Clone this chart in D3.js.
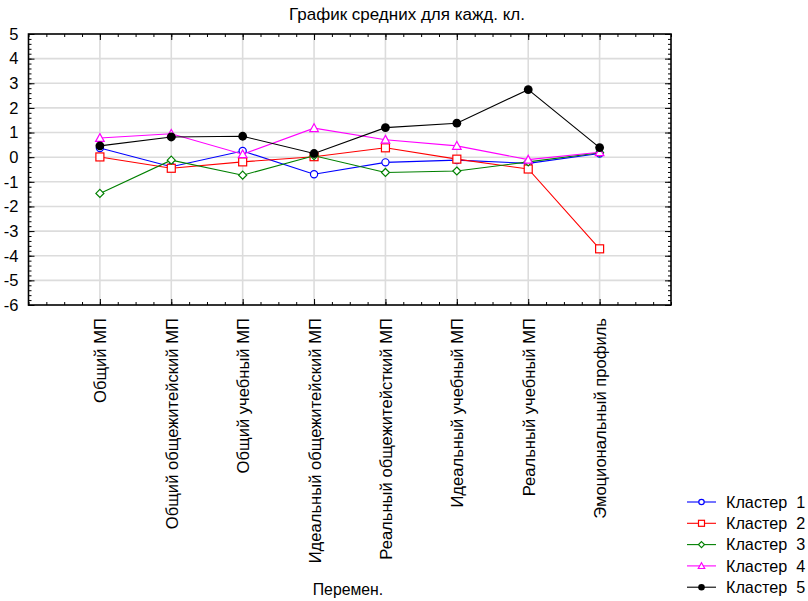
<!DOCTYPE html>
<html>
<head>
<meta charset="utf-8">
<script src="https://cdn.jsdelivr.net/npm/d3@7"></script>
<style>
  html, body { margin: 0; padding: 0; background: #fff; }
  svg { display: block; font-family: "Liberation Sans", Arial, sans-serif; }
</style>
</head>
<body>
<svg id="chart" width="808" height="601"></svg>
<script>
const categories = [
  "Общий МП",
  "Общий общежитейский МП",
  "Общий учебный МП",
  "Идеальный общежитейский МП",
  "Реальный общежитейсткий МП",
  "Идеальный учебный МП",
  "Реальный учебный МП",
  "Эмоциональный профиль"
];
const seriesNames = ["Кластер  1", "Кластер  2", "Кластер  3", "Кластер  4", "Кластер  5"];
const cluster1 = [0.37, -0.39, 0.25, -0.69, -0.21, -0.12, -0.25, 0.15];
const cluster2 = [0.01, -0.45, -0.19, 0.02, 0.38, -0.08, -0.48, -3.72];
const cluster3 = [-1.47, -0.12, -0.73, 0.06, -0.62, -0.56, -0.19, 0.18];
const cluster4 = [0.78, 0.95, 0.12, 1.18, 0.71, 0.46, -0.10, 0.20];
const cluster5 = [0.46, 0.82, 0.85, 0.15, 1.20, 1.38, 2.74, 0.39];
const yTicks = [-6, -5, -4, -3, -2, -1, 0, 1, 2, 3, 4, 5];

const seriesColors = ["#0000ff", "#ff0000", "#008000", "#ff00ff", "#000000"];
const seriesShapes = ["circle", "square", "diamond", "triangle", "dot"];
const seriesData = [cluster1, cluster2, cluster3, cluster4, cluster5];

const svg = d3.select("#chart");
const L = 28.5, R = 671, T = 34, B = 305;
const x = d3.scaleLinear().domain([0, categories.length + 1]).range([L, R]);
const y = d3.scaleLinear().domain([-6, 5]).range([B, T]);

// gridlines
const grid = svg.append("g");
grid.selectAll("line.h").data(yTicks.slice(1, -1)).join("line")
  .attr("x1", L).attr("x2", R).attr("y1", d => y(d)).attr("y2", d => y(d))
  .attr("stroke", "#dcdcdc").attr("stroke-width", 1.6);
grid.selectAll("line.v").data(d3.range(1, categories.length + 1)).join("line")
  .attr("y1", T).attr("y2", B).attr("x1", d => x(d)).attr("x2", d => x(d))
  .attr("stroke", "#dcdcdc").attr("stroke-width", 1.6);

const minorY = d3.range(-6, 5.001, 0.2).map(v => Math.round(v * 10) / 10);
const minorX = d3.range(0, categories.length + 1.001, 0.25);

function styleAxis(g) {
  g.select(".domain").remove();
  g.selectAll(".tick line").attr("stroke", "#000");
}

// left axis
svg.append("g").attr("transform", `translate(${L},0)`)
  .call(d3.axisLeft(y).tickValues(minorY).tickSizeInner(-3).tickFormat(""))
  .call(styleAxis);
svg.append("g").attr("transform", `translate(${L},0)`)
  .call(d3.axisLeft(y).tickValues(yTicks).tickSizeInner(-6).tickPadding(10).tickFormat(d3.format("d")))
  .call(styleAxis)
  .call(g => g.selectAll("text").attr("font-size", "16.5px").attr("fill", "#000")
    .attr("font-family", "'Liberation Sans', Arial, sans-serif").text(d => String(d).replace("−", "-")));
// right axis (mirror)
svg.append("g").attr("transform", `translate(${R},0)`)
  .call(d3.axisRight(y).tickValues(minorY).tickSizeInner(-3).tickFormat(""))
  .call(styleAxis);
svg.append("g").attr("transform", `translate(${R},0)`)
  .call(d3.axisRight(y).tickValues(yTicks).tickSizeInner(-6).tickFormat(""))
  .call(styleAxis);
// top axis (mirror)
svg.append("g").attr("transform", `translate(0,${T})`)
  .call(d3.axisTop(x).tickValues(minorX).tickSizeInner(-3).tickFormat(""))
  .call(styleAxis);
svg.append("g").attr("transform", `translate(0,${T})`)
  .call(d3.axisTop(x).tickValues(d3.range(1, categories.length + 1)).tickSizeInner(-6).tickFormat(""))
  .call(styleAxis);
// bottom axis
svg.append("g").attr("transform", `translate(0,${B})`)
  .call(d3.axisBottom(x).tickValues(minorX).tickSizeInner(-3).tickFormat(""))
  .call(styleAxis);
svg.append("g").attr("transform", `translate(0,${B})`)
  .call(d3.axisBottom(x).tickValues(d3.range(1, categories.length + 1)).tickSizeInner(-6)
    .tickFormat(d => categories[d - 1]))
  .call(styleAxis)
  .call(g => g.selectAll("text")
    .attr("font-size", "16.6px").attr("fill", "#000")
    .attr("font-family", "'Liberation Sans', Arial, sans-serif")
    .attr("transform", "rotate(-90)")
    .attr("text-anchor", "end")
    .attr("x", -13).attr("y", 0).attr("dy", "0.36em"));

// frame
svg.append("rect").attr("x", L).attr("y", T).attr("width", R - L).attr("height", B - T)
  .attr("fill", "none").attr("stroke", "#000").attr("stroke-width", 1.6);

// marker drawing
function drawMarker(sel, shape, color, s) {
  if (shape === "circle") {
    sel.append("circle").attr("r", 3.6 * s).attr("fill", "#fff").attr("stroke", color).attr("stroke-width", 1.2);
  } else if (shape === "square") {
    const h = 4 * s;
    sel.append("rect").attr("x", -h).attr("y", -h).attr("width", 2 * h).attr("height", 2 * h)
      .attr("fill", "#fff").attr("stroke", color).attr("stroke-width", 1.2);
  } else if (shape === "diamond") {
    const h = 4 * s;
    sel.append("path").attr("d", `M0,${-h}L${h},0L0,${h}L${-h},0Z`)
      .attr("fill", "#fff").attr("stroke", color).attr("stroke-width", 1.2);
  } else if (shape === "triangle") {
    const h = 4.3 * s;
    sel.append("path").attr("d", `M0,${-h}L${h},${h * 0.8}L${-h},${h * 0.8}Z`)
      .attr("fill", "#fff").attr("stroke", color).attr("stroke-width", 1.2);
  } else {
    sel.append("circle").attr("r", 4.4 * s).attr("fill", color);
  }
}

const line = d3.line().x((d, i) => x(i + 1)).y(d => y(d));
seriesData.forEach((vals, k) => {
  const g = svg.append("g");
  g.append("path").datum(vals).attr("d", line).attr("fill", "none")
    .attr("stroke", seriesColors[k]).attr("stroke-width", 1.1);
  vals.forEach((v, i) => {
    const m = g.append("g").attr("transform", `translate(${x(i + 1)},${y(v)})`);
    drawMarker(m, seriesShapes[k], seriesColors[k], 1);
  });
});

// title
svg.append("text").attr("x", 407).attr("y", 20).attr("text-anchor", "middle")
  .attr("font-size", "17px").attr("fill", "#000").text("График средних для кажд. кл.");
// x axis title
svg.append("text").attr("x", 348).attr("y", 595).attr("text-anchor", "middle")
  .attr("font-size", "15.8px").attr("fill", "#000").text("Перемен.");

// legend
const lg = svg.append("g");
seriesNames.forEach((name, k) => {
  const yy = 502 + k * 21.3;
  const row = lg.append("g").attr("transform", `translate(0,${yy})`);
  row.append("line").attr("x1", 687).attr("x2", 716).attr("y1", 0).attr("y2", 0)
    .attr("stroke", seriesColors[k]).attr("stroke-width", 1.1);
  const m = row.append("g").attr("transform", "translate(701.5,0)");
  drawMarker(m, seriesShapes[k], seriesColors[k], 0.75);
  row.append("text").attr("x", 726).attr("y", 0).attr("dy", "0.36em")
    .attr("font-size", "16.2px").attr("fill", "#000").style("white-space", "pre").text(name);
});
</script>
</body>
</html>
